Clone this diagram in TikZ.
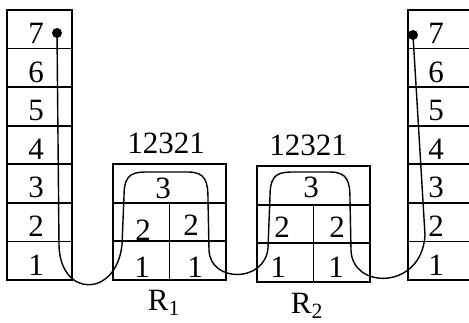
\documentclass[tikz,border=0pt]{standalone}
\usepackage{fontspec}
\setmainfont{Liberation Serif}
\usepackage{tikz}

\begin{document}
\begin{tikzpicture}[x=1pt, y=-1pt,
    cell/.style={draw, line width=1.8pt, inner sep=0pt, minimum width=65pt, minimum height=38.57pt},
    half/.style={draw, line width=1.8pt, inner sep=0pt, minimum width=56.5pt, minimum height=38.67pt},
    wide/.style={draw, line width=1.8pt, inner sep=0pt, minimum width=113pt, minimum height=38.67pt},
    num/.style={anchor=base, inner sep=0pt, font=\fontsize{31}{31}\selectfont},
    dot/.style={circle, fill, inner sep=0pt, minimum size=10pt},
    wire/.style={line width=1.4pt}
  ]
    \useasboundingbox (0,0) rectangle (469,322);

    % the two stacks
    \foreach \i in {1,...,7} {
      \node[cell] (left\i) at (39.5, {280-(\i-0.5)*38.57}) {};
      \node[num] (leftnum\i) at (36, {280-(\i-1)*38.57-5}) {\i};
      \node[cell] (right\i) at (440.5, {280-(\i-0.5)*38.57}) {};
      \node[num] (rightnum\i) at (436, {280-(\i-1)*38.57-5}) {\i};
    }

    % box R1
    \node[wide] (ronetop) at (169.5,183.3) {};
    \node[half] (ronemidl) at (141.25,222) {};
    \node[half] (ronemidr) at (197.75,222) {};
    \node[half] (ronebotl) at (141.25,260.7) {};
    \node[half] (ronebotr) at (197.75,260.7) {};
    \node[num] (ronethree) at (163,198) {3};
    \node[num] (ronetwol) at (143,240) {2};
    \node[num] (ronetwor) at (191,235) {2};
    \node[num] (roneonel) at (142,277) {1};
    \node[num] (roneoner) at (195,277) {1};
    \node[num] (ronecode) at (166,153) {12321};
    \node[num] (ronename) at (164,310) {R\textsubscript{1}};

    % box R2
    \node[wide] (rtwotop) at (313.5,185.3) {};
    \node[half] (rtwomidl) at (285.25,224) {};
    \node[half] (rtwomidr) at (341.75,224) {};
    \node[half] (rtwobotl) at (285.25,262.7) {};
    \node[half] (rtwobotr) at (341.75,262.7) {};
    \node[num] (rtwothree) at (311,197) {3};
    \node[num] (rtwotwol) at (282,237) {2};
    \node[num] (rtwotwor) at (337,237) {2};
    \node[num] (rtwoonel) at (278,277) {1};
    \node[num] (rtwooner) at (336,277) {1};
    \node[num] (rtwocode) at (308,155) {12321};
    \node[num] (rtwoname) at (307,313) {R\textsubscript{2}};

    % the wire
    \node[dot] (dotL) at (57,33) {};
    \node[dot] (dotR) at (413,35) {};
    \draw[wire] (dotL.center) -- (59,245)
      .. controls (60,298) and (116,298) .. (122,245)
      -- (124,196) .. controls (124,172) and (134,172) .. (150,172)
      -- (188,172) .. controls (206,172) and (208,182) .. (208,200)
      -- (209,250) .. controls (210,283) and (265,283) .. (268,248)
      -- (270,196) .. controls (270,172) and (280,172) .. (296,172)
      -- (330,172) .. controls (348,172) and (350,182) .. (350,200)
      -- (351,250) .. controls (352,290) and (422,290) .. (425,235)
      -- (dotR.center);
  \end{tikzpicture}
\end{document}
